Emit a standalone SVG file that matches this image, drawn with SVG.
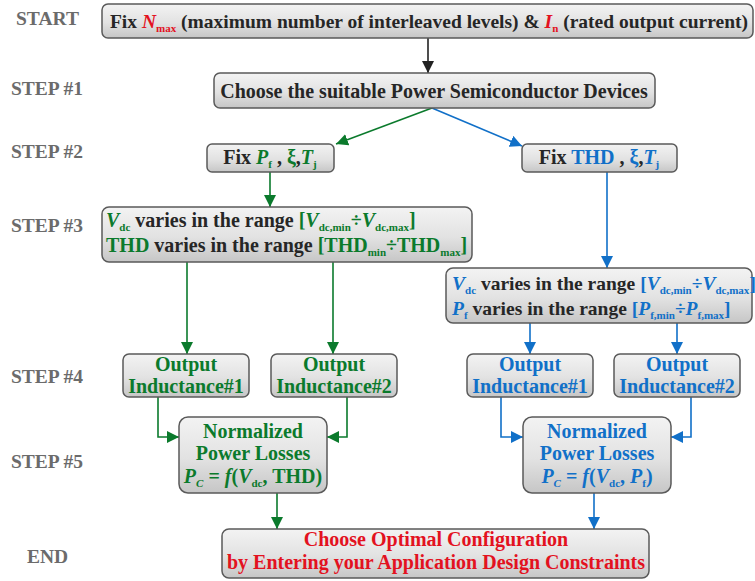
<svg xmlns="http://www.w3.org/2000/svg" width="755" height="581" viewBox="0 0 755 581">
<style>
.lbl{font-family:"Liberation Serif",serif;font-weight:bold;font-size:19.5px;fill:#6b6b6b}
.t{font-family:"Liberation Serif",serif;font-weight:bold;font-size:20px;fill:#262626}
.box{fill:url(#g);stroke:#5a5a5a;stroke-width:1.5}
.gr{fill:#0b7a2c}.bl{fill:#1170c8}.rd{fill:#e3121f}
.it{font-style:italic}
.sub{font-size:11px}
.cg{fill:none;stroke:#0b7a2c;stroke-width:1.6}
.cb{fill:none;stroke:#1170c8;stroke-width:1.6}
.ck{fill:none;stroke:#222;stroke-width:1.6}
</style>
<defs>
<linearGradient id="g" x1="0" y1="0" x2="0" y2="1">
<stop offset="0" stop-color="#f3f3f3"/>
<stop offset="0.55" stop-color="#e2e2e2"/>
<stop offset="1" stop-color="#c6c6c6"/>
</linearGradient>
<marker id="ak" markerUnits="userSpaceOnUse" markerWidth="12" markerHeight="12" refX="12" refY="6" orient="auto"><path d="M0,0 L12,6 L0,12 z" fill="#222"/></marker>
<marker id="ag" markerUnits="userSpaceOnUse" markerWidth="12" markerHeight="12" refX="12" refY="6" orient="auto"><path d="M0,0 L12,6 L0,12 z" fill="#0b7a2c"/></marker>
<marker id="ab" markerUnits="userSpaceOnUse" markerWidth="12" markerHeight="12" refX="12" refY="6" orient="auto"><path d="M0,0 L12,6 L0,12 z" fill="#1170c8"/></marker>
</defs>

<g id="labels">
<text class="lbl" x="16" y="25">START</text>
<text class="lbl" x="11" y="95">STEP #1</text>
<text class="lbl" x="11" y="158">STEP #2</text>
<text class="lbl" x="11" y="232">STEP #3</text>
<text class="lbl" x="11" y="383">STEP #4</text>
<text class="lbl" x="11" y="468">STEP #5</text>
<text class="lbl" x="27" y="563">END</text>
</g>

<g id="connectors">
<path class="ck" d="M428,38 V73" marker-end="url(#ak)"/>
<path class="cg" d="M432,108 L336,144" marker-end="url(#ag)"/>
<path class="cb" d="M432,108 L522,146" marker-end="url(#ab)"/>
<path class="cg" d="M270,172 V207" marker-end="url(#ag)"/>
<path class="cb" d="M607,172 V268" marker-end="url(#ab)"/>
<path class="cg" d="M187,262 V354" marker-end="url(#ag)"/>
<path class="cg" d="M333,262 V354" marker-end="url(#ag)"/>
<path class="cb" d="M530,323 V354" marker-end="url(#ab)"/>
<path class="cb" d="M677,323 V354" marker-end="url(#ab)"/>
<path class="cg" d="M158,397 V437 H179" marker-end="url(#ag)"/>
<path class="cg" d="M347,397 V437 H327" marker-end="url(#ag)"/>
<path class="cb" d="M501,397 V437 H523" marker-end="url(#ab)"/>
<path class="cb" d="M691,397 V437 H671" marker-end="url(#ab)"/>
<path class="cg" d="M277,493 V529" marker-end="url(#ag)"/>
<path class="cb" d="M594,493 V529" marker-end="url(#ab)"/>
</g>

<g id="start">
<rect class="box" x="102" y="4" width="651" height="34" rx="6"/>
<text class="t" x="429" y="28" text-anchor="middle" style="font-size:19.5px">Fix <tspan class="rd it">N</tspan><tspan class="rd sub" dy="4">max</tspan><tspan dy="-4"> (maximum number of interleaved levels) &amp; </tspan><tspan class="rd it">I</tspan><tspan class="rd sub" dy="4">n</tspan><tspan dy="-4"> (rated output current)</tspan></text>
</g>

<g id="step1">
<rect class="box" x="214" y="73" width="441" height="35" rx="6"/>
<text class="t" x="434" y="98" text-anchor="middle">Choose the suitable Power Semiconductor Devices</text>
</g>

<g id="step2-left">
<rect class="box" x="207" y="144" width="127" height="28" rx="5"/>
<text class="t" x="270" y="164" text-anchor="middle">Fix <tspan class="gr it">P</tspan><tspan class="gr sub" dy="4">f</tspan><tspan dy="-4"> , </tspan><tspan class="gr">ξ</tspan>,<tspan class="gr it">T</tspan><tspan class="gr sub" dy="4">j</tspan></text>
</g>

<g id="step2-right">
<rect class="box" x="522" y="144" width="155" height="28" rx="5"/>
<text class="t" x="599" y="164" text-anchor="middle">Fix <tspan class="bl">THD</tspan> , <tspan class="bl">ξ</tspan>,<tspan class="bl it">T</tspan><tspan class="bl sub" dy="4">j</tspan></text>
</g>

<g id="step3-left">
<rect class="box" x="102" y="207" width="370" height="55" rx="7"/>
<text class="t" x="106" y="227"><tspan class="gr it">V</tspan><tspan class="gr sub" dy="4">dc</tspan><tspan dy="-4"> varies in the range </tspan><tspan class="gr">[<tspan class="it">V</tspan></tspan><tspan class="gr sub" dy="4">dc,min</tspan><tspan class="gr" dy="-4">÷<tspan class="it">V</tspan></tspan><tspan class="gr sub" dy="4">dc,max</tspan><tspan class="gr" dy="-4">]</tspan></text>
<text class="t" x="106" y="252"><tspan class="gr">THD</tspan> varies in the range <tspan class="gr">[THD</tspan><tspan class="gr sub" dy="4">min</tspan><tspan class="gr" dy="-4">÷THD</tspan><tspan class="gr sub" dy="4">max</tspan><tspan class="gr" dy="-4">]</tspan></text>
</g>

<g id="step3-right">
<rect class="box" x="446" y="268" width="306" height="55" rx="7"/>
<text class="t" x="452" y="290" style="font-size:19.5px"><tspan class="bl it">V</tspan><tspan class="bl sub" dy="4">dc</tspan><tspan dy="-4"> varies in the range </tspan><tspan class="bl">[<tspan class="it">V</tspan></tspan><tspan class="bl sub" dy="4">dc,min</tspan><tspan class="bl" dy="-4">÷<tspan class="it">V</tspan></tspan><tspan class="bl sub" dy="4">dc,max</tspan><tspan class="bl" dy="-4">]</tspan></text>
<text class="t" x="452" y="315" style="font-size:19.5px"><tspan class="bl it">P</tspan><tspan class="bl sub" dy="4">f</tspan><tspan dy="-4"> varies in the range </tspan><tspan class="bl">[<tspan class="it">P</tspan></tspan><tspan class="bl sub" dy="4">f,min</tspan><tspan class="bl" dy="-4">÷<tspan class="it">P</tspan></tspan><tspan class="bl sub" dy="4">f,max</tspan><tspan class="bl" dy="-4">]</tspan></text>
</g>

<g id="out1-left">
<rect class="box" x="123" y="354" width="126" height="43" rx="6"/>
<text class="t gr" x="186" y="371" text-anchor="middle">Output</text>
<text class="t gr" x="186" y="393" text-anchor="middle">Inductance#1</text>
</g>
<g id="out2-left">
<rect class="box" x="271" y="354" width="126" height="43" rx="6"/>
<text class="t gr" x="334" y="371" text-anchor="middle">Output</text>
<text class="t gr" x="334" y="393" text-anchor="middle">Inductance#2</text>
</g>
<g id="out1-right">
<rect class="box" x="467" y="354" width="126" height="43" rx="6"/>
<text class="t bl" x="530" y="371" text-anchor="middle">Output</text>
<text class="t bl" x="530" y="393" text-anchor="middle">Inductance#1</text>
</g>
<g id="out2-right">
<rect class="box" x="614" y="354" width="126" height="43" rx="6"/>
<text class="t bl" x="677" y="371" text-anchor="middle">Output</text>
<text class="t bl" x="677" y="393" text-anchor="middle">Inductance#2</text>
</g>

<g id="losses-left">
<rect class="box" x="179" y="417" width="148" height="76" rx="9"/>
<text class="t gr" x="253" y="438" text-anchor="middle">Normalized</text>
<text class="t gr" x="253" y="460" text-anchor="middle">Power Losses</text>
<text class="t gr" x="253" y="483" text-anchor="middle"><tspan class="it">P</tspan><tspan class="it sub" dy="4">C</tspan><tspan dy="-4"> = </tspan><tspan class="it">f</tspan>(<tspan class="it">V</tspan><tspan class="sub" dy="4">dc</tspan><tspan dy="-4">, THD)</tspan></text>
</g>
<g id="losses-right">
<rect class="box" x="523" y="417" width="148" height="76" rx="9"/>
<text class="t bl" x="597" y="438" text-anchor="middle">Normalized</text>
<text class="t bl" x="597" y="460" text-anchor="middle">Power Losses</text>
<text class="t bl" x="597" y="483" text-anchor="middle"><tspan class="it">P</tspan><tspan class="it sub" dy="4">C</tspan><tspan dy="-4"> = </tspan><tspan class="it">f</tspan>(<tspan class="it">V</tspan><tspan class="sub" dy="4">dc</tspan><tspan dy="-4">, </tspan><tspan class="it">P</tspan><tspan class="sub" dy="4">f</tspan><tspan dy="-4">)</tspan></text>
</g>

<g id="end">
<rect class="box" x="222" y="529" width="427" height="49" rx="7"/>
<text class="t rd" x="436" y="546" text-anchor="middle">Choose Optimal Configuration</text>
<text class="t rd" x="436" y="569" text-anchor="middle">by Entering your Application Design Constraints</text>
</g>
</svg>
